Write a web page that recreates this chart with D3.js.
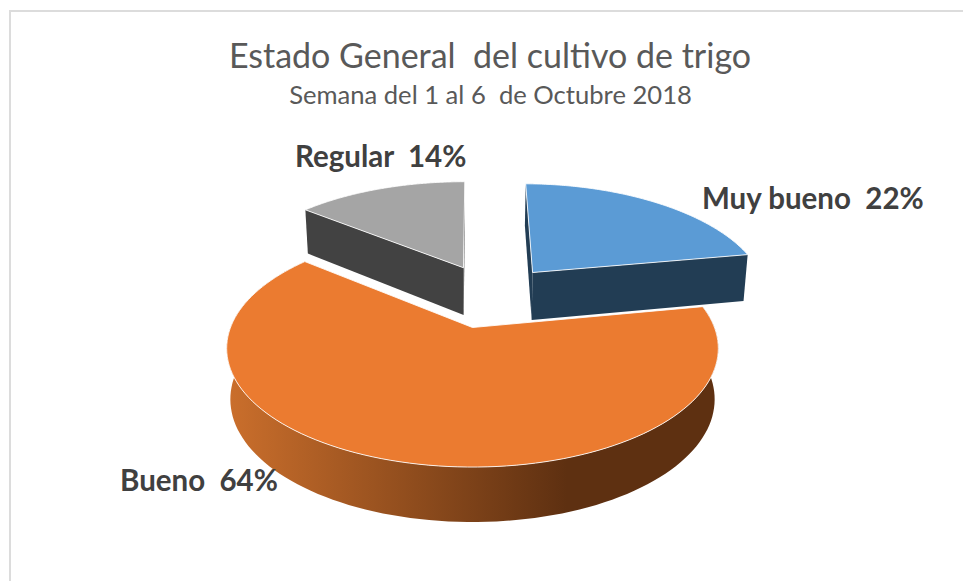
<!DOCTYPE html>
<html><head><meta charset="utf-8">
<script src="https://cdn.jsdelivr.net/npm/d3@7"></script>
<style>
html,body{margin:0;padding:0;background:#fff;overflow:hidden}
text{white-space:pre;font-family:Lato,"Open Sans",sans-serif}
</style></head><body><svg id="c" width="963" height="581"></svg>
<script>
const categories = ["Muy bueno", "Bueno", "Regular"];
const shares = [22, 64, 14];
const titleText = "Estado General  del cultivo de trigo";
const subtitleText = "Semana del 1 al 6  de Octubre 2018";

const W = 963, H = 581;
const svg = d3.select("#c");

// frame
svg.append("path").attr("d", `M10,${H}V11H${W}`).attr("fill","none").attr("stroke","#dcdcdc").attr("stroke-width",2);

// layout of the perspective pie
const C = {cx:472.5, cy:327.5, sx:242, sy:115, k:0.176, shrink:0.985};
const explode = [[0.271,-0.522],[0,0],[-0.041,-0.572]];
const radiusU = [1.025,1,1.04];
const radiusV = [1.08,1,1.06];
const rotate = [0.6*Math.PI/180,0,0];
const topFill = ["#5B9BD5","#EB7B30","#A5A5A5"];
const wallFill = ["#223D54","url(#wallGrad)","#424242"];
const labelPos = [[702,209],[120,491],[295,167]];
const drawOrder = [1,2,0];

const defs = svg.append("defs");
const grad = defs.append("linearGradient").attr("id","wallGrad")
  .attr("gradientUnits","userSpaceOnUse").attr("x1",226).attr("x2",720).attr("y1",0).attr("y2",0);
grad.append("stop").attr("offset","0").attr("stop-color","#CB6F2C");
grad.append("stop").attr("offset","0.69").attr("stop-color","#5E3011");
grad.append("stop").attr("offset","1").attr("stop-color","#5E3011");

const arcs = d3.pie().sort(null).value(d=>d)(shares);

function topPt(u,v){
  const w = 1 - C.k*v;
  return [C.cx + C.sx*u/w, C.cy + C.sy*v/w];
}
function botPt(u,v){
  const p = topPt(u,v);
  return [C.cx + (p[0]-C.cx)*C.shrink, p[1] + 50 + 5*v];
}
const line = d3.line();
const angleSamples = (a0,a1)=>d3.range(0,121).map(i=>a0+(a1-a0)*i/120);

drawOrder.forEach(i=>{
  const a = arcs[i], off = explode[i], rot = rotate[i];
  const world = t=>[off[0]+radiusU[i]*Math.sin(t+rot), off[1]-radiusV[i]*Math.cos(t+rot)];
  const g = svg.append("g");
  const rim = angleSamples(a.startAngle,a.endAngle).map(world);
  const tip = off;

  // side walls
  const wall = (pts)=>g.append("path")
    .attr("d", line(pts.map(p=>topPt(...p)).concat(pts.slice().reverse().map(p=>botPt(...p))))+"Z")
    .attr("fill",wallFill[i]);
  if(i===1){ wall(rim); }
  else {
    wall([rim[0],tip]);
    wall([tip,rim[rim.length-1]]);
  }
  // top face
  g.append("path")
    .attr("d", line([tip,...rim].map(p=>topPt(...p)))+"Z")
    .attr("fill",topFill[i])
    .attr("stroke","#fff").attr("stroke-opacity",0.85).attr("stroke-width",1).attr("stroke-linejoin","round");
});

// titles
svg.append("text").attr("x",490).attr("y",68).attr("text-anchor","middle")
  .attr("font-size",34).attr("fill","#595959").text(titleText);
svg.append("text").attr("x",490.5).attr("y",104).attr("text-anchor","middle")
  .attr("font-size",25.6).attr("fill","#595959").text(subtitleText);

// data labels
const fmt = d=>d+"%";
svg.selectAll("text.lbl").data(categories).join("text").attr("class","lbl")
  .attr("x",(d,i)=>labelPos[i][0]).attr("y",(d,i)=>labelPos[i][1])
  .attr("font-size",29.5).attr("font-weight",700).attr("fill","#404040")
  .text((d,i)=>`${d}  ${fmt(shares[i])}`);
</script></body></html>
